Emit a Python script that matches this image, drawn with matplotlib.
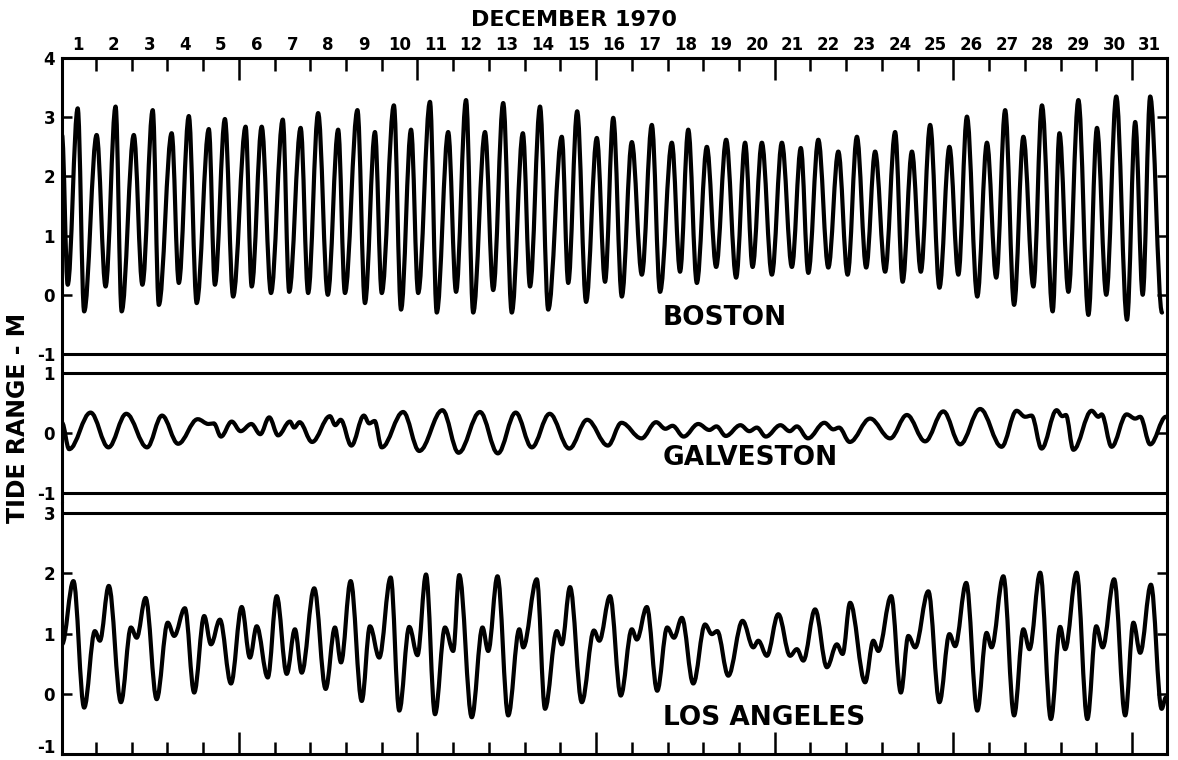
import matplotlib.pyplot as plt
from matplotlib.path import Path
from matplotlib.patches import PathPatch

plt.rcParams['font.family'] = ['DejaVu Sans']
plt.rcParams['font.weight'] = 'bold'
plt.rcParams['axes.unicode_minus'] = False

days = list(range(1, 32))

# Boston: times (days since Dec 1 0h) and levels (m) of successive highs and lows
bos_t = [0.05, 0.21, 0.49, 0.67, 1.02, 1.27, 1.55, 1.72, 2.06, 2.30, 2.59, 2.76,
         3.12, 3.32, 3.60, 3.82, 4.16, 4.33, 4.61, 4.84, 5.19, 5.36, 5.64, 5.90,
         6.23, 6.41, 6.73, 6.94, 7.22, 7.49, 7.78, 7.97, 8.32, 8.53, 8.81, 9.00,
         9.34, 9.54, 9.82, 10.02, 10.35, 10.54, 10.86, 11.08, 11.36, 11.56, 11.89, 12.12,
         12.40, 12.64, 12.95, 13.15, 13.43, 13.66, 14.04, 14.22, 14.47, 14.72, 15.02, 15.25,
         15.48, 15.72, 16.00, 16.28, 16.56, 16.79, 17.12, 17.35, 17.58, 17.82, 18.10, 18.36,
         18.64, 18.92, 19.17, 19.38, 19.64, 19.92, 20.20, 20.48, 20.73, 20.94, 21.22, 21.50,
         21.78, 22.04, 22.30, 22.56, 22.81, 23.09, 23.37, 23.58, 23.84, 24.09, 24.35, 24.61,
         24.89, 25.14, 25.38, 25.67, 25.94, 26.20, 26.45, 26.70, 26.96, 27.24, 27.48, 27.78,
         27.97, 28.22, 28.50, 28.78, 29.02, 29.28, 29.56, 29.86, 30.09, 30.30, 30.51, 30.84]
bos_v = [2.70, 0.17, 3.15, -0.28, 2.70, 0.14, 3.18, -0.28, 2.70, 0.17, 3.12, -0.17,
         2.73, 0.20, 3.02, -0.14, 2.80, 0.17, 2.97, -0.03, 2.84, 0.14, 2.84, 0.03,
         2.96, 0.05, 2.82, 0.03, 3.07, 0.00, 2.79, 0.03, 3.12, -0.14, 2.75, 0.03,
         3.20, -0.25, 2.79, 0.03, 3.26, -0.30, 2.75, 0.05, 3.29, -0.30, 2.75, 0.08,
         3.24, -0.30, 2.73, 0.14, 3.18, -0.25, 2.67, 0.20, 3.10, -0.12, 2.65, 0.22,
         2.99, -0.03, 2.58, 0.34, 2.87, 0.05, 2.57, 0.39, 2.79, 0.20, 2.50, 0.47,
         2.62, 0.29, 2.57, 0.47, 2.57, 0.34, 2.57, 0.47, 2.48, 0.37, 2.62, 0.46,
         2.42, 0.34, 2.67, 0.46, 2.42, 0.39, 2.75, 0.22, 2.42, 0.39, 2.87, 0.12,
         2.50, 0.34, 3.01, -0.03, 2.57, 0.29, 3.12, -0.17, 2.67, 0.14, 3.20, -0.28,
         2.73, 0.05, 3.29, -0.34, 2.82, 0.00, 3.35, -0.42, 2.92, 0.00, 3.35, -0.30]

# Galveston
gal_t = [0.05, 0.25, 0.85, 1.35, 1.85, 2.43, 2.85, 3.30, 3.85, 4.15,
         4.30, 4.50, 4.80, 5.05, 5.35, 5.60, 5.85, 6.10, 6.43, 6.55,
         6.70, 7.05, 7.55, 7.70, 7.85, 8.15, 8.50, 8.65, 8.80, 9.00,
         9.60, 10.05, 10.70, 11.15, 11.75, 12.25, 12.75, 13.20, 13.70, 14.25,
         14.75, 15.33, 15.71, 16.27, 16.68, 16.94, 17.14, 17.45, 17.86, 18.17,
         18.37, 18.63, 19.04, 19.29, 19.50, 19.75, 20.16, 20.42, 20.62, 20.93,
         21.39, 21.64, 21.80, 22.10, 22.67, 23.23, 23.70, 24.21, 24.72, 25.19,
         25.75, 26.35, 26.77, 27.01, 27.19, 27.47, 27.89, 28.05, 28.15, 28.36,
         28.87, 29.06, 29.15, 29.43, 29.85, 30.09, 30.23, 30.51, 30.95]
gal_v = [0.17, -0.27, 0.34, -0.24, 0.32, -0.24, 0.29, -0.18, 0.23, 0.15,
         0.16, -0.06, 0.19, 0.03, 0.15, -0.02, 0.26, -0.04, 0.19, 0.09,
         0.18, -0.15, 0.28, 0.13, 0.22, -0.21, 0.29, 0.16, 0.20, -0.24,
         0.35, -0.30, 0.38, -0.33, 0.35, -0.34, 0.34, -0.24, 0.32, -0.26,
         0.22, -0.21, 0.17, -0.09, 0.18, 0.07, 0.12, -0.06, 0.15, 0.05,
         0.11, -0.05, 0.13, 0.03, 0.09, -0.06, 0.13, 0.03, 0.11, -0.09,
         0.17, 0.06, 0.09, -0.15, 0.24, -0.09, 0.30, -0.14, 0.36, -0.19,
         0.40, -0.23, 0.37, 0.27, 0.29, -0.26, 0.38, 0.28, 0.30, -0.28,
         0.37, 0.27, 0.31, -0.23, 0.31, 0.24, 0.27, -0.19, 0.27]

# Los Angeles
la_t = [0.05, 0.37, 0.67, 0.97, 1.11, 1.36, 1.70, 1.98, 2.14, 2.39, 2.70, 3.01,
        3.19, 3.49, 3.75, 4.03, 4.22, 4.47, 4.78, 5.08, 5.31, 5.50, 5.81, 6.06,
        6.34, 6.57, 6.76, 7.11, 7.43, 7.69, 7.86, 8.13, 8.44, 8.67, 8.93, 9.25,
        9.49, 9.77, 10.00, 10.24, 10.49, 10.77, 11.00, 11.17, 11.52, 11.82, 11.98, 12.24,
        12.54, 12.85, 12.96, 13.34, 13.57, 13.90, 14.04, 14.27, 14.60, 14.94, 15.09, 15.39,
        15.69, 16.00, 16.14, 16.42, 16.71, 16.99, 17.18, 17.40, 17.72, 18.05, 18.24, 18.39,
        18.70, 19.10, 19.40, 19.54, 19.78, 20.10, 20.43, 20.62, 20.80, 21.13, 21.46, 21.74,
        21.90, 22.11, 22.53, 22.76, 22.90, 23.26, 23.53, 23.74, 23.93, 24.30, 24.61, 24.89,
        25.05, 25.36, 25.67, 25.93, 26.07, 26.40, 26.70, 26.96, 27.13, 27.43, 27.73, 27.99,
        28.13, 28.45, 28.75, 29.00, 29.18, 29.50, 29.81, 30.04, 30.23, 30.53, 30.83, 30.95]
la_v = [0.82, 1.87, -0.23, 1.04, 0.88, 1.79, -0.14, 1.10, 0.93, 1.59, -0.09, 1.18,
        0.96, 1.42, 0.02, 1.29, 0.82, 1.23, 0.17, 1.44, 0.60, 1.12, 0.27, 1.62,
        0.33, 1.07, 0.35, 1.75, 0.08, 1.10, 0.52, 1.87, -0.12, 1.12, 0.60, 1.93,
        -0.28, 1.11, 0.64, 1.98, -0.34, 1.10, 0.71, 1.97, -0.39, 1.10, 0.71, 1.95,
        -0.36, 1.07, 0.77, 1.90, -0.25, 1.04, 0.82, 1.77, -0.14, 1.05, 0.88, 1.62,
        -0.03, 1.07, 0.90, 1.44, 0.05, 1.10, 0.93, 1.26, 0.17, 1.15, 0.99, 1.04,
        0.30, 1.21, 0.77, 0.88, 0.63, 1.32, 0.63, 0.74, 0.55, 1.40, 0.44, 0.82,
        0.66, 1.51, 0.19, 0.88, 0.71, 1.62, 0.02, 0.96, 0.77, 1.70, -0.14, 0.99,
        0.79, 1.84, -0.28, 1.01, 0.77, 1.95, -0.36, 1.07, 0.74, 2.01, -0.42, 1.11,
        0.74, 2.01, -0.42, 1.12, 0.77, 1.90, -0.36, 1.18, 0.68, 1.81, -0.25, -0.06]


def tide_curve(ts, vs):
    # smooth curve through the turning points, flat at each one
    verts = [(ts[0], vs[0])]
    codes = [Path.MOVETO]
    for i in range(1, len(ts)):
        dt = ts[i] - ts[i - 1]
        verts += [(ts[i - 1] + 0.363 * dt, vs[i - 1]),
                  (ts[i] - 0.363 * dt, vs[i]),
                  (ts[i], vs[i])]
        codes += [Path.CURVE4] * 3
    return PathPatch(Path(verts, codes), fill=False, edgecolor='black',
                     lw=3.0, capstyle='round', joinstyle='round')


W, H = 1178, 760
fig = plt.figure(figsize=(W / 100, H / 100), dpi=100)
x_left, x_right = 62, 1167


def panel(top, bottom):
    return fig.add_axes([x_left / W, 1 - bottom / H, (x_right - x_left) / W, (bottom - top) / H])


ax_b = panel(58, 363.5)
ax_g = panel(363.5, 503)
ax_l = panel(503, 754)

frame_lw = 2.2
xlim = (0.05, 30.98)

for ax in (ax_b, ax_g, ax_l):
    ax.set_xlim(xlim)
    for s in ax.spines.values():
        s.set_linewidth(frame_lw)
    ax.tick_params(axis='y', direction='in', length=7, width=1.8, left=True, right=True,
                   labelsize=12, pad=5)
    ax.tick_params(axis='x', which='both', direction='in', width=1.8)

# Boston
ax_b.add_patch(tide_curve(bos_t, bos_v))
ax_b.set_ylim(-1.16, 4)
ax_b.set_yticks([-1, 0, 1, 2, 3, 4])
ax_b.spines['bottom'].set_visible(False)
ax_b.axhline(-1, color='black', lw=frame_lw)
ax_b.set_xticks([5, 10, 15, 20, 25, 30])
ax_b.set_xticks([d for d in days[:-1] if d % 5], minor=True)
ax_b.tick_params(axis='x', which='both', top=True, bottom=False, labeltop=False, labelbottom=False)
ax_b.tick_params(axis='x', which='major', length=16)
ax_b.tick_params(axis='x', which='minor', length=9)
sec = ax_b.secondary_xaxis('top')
sec.set_xticks([d - 0.5 for d in days], labels=[str(d) for d in days])
sec.tick_params(length=0, pad=3, labelsize=12)
sec.spines['top'].set_visible(False)
ax_b.text(16.87, -0.39, 'BOSTON', fontsize=19, fontweight='bold', ha='left', va='center')

# Galveston
ax_g.add_patch(tide_curve(gal_t, gal_v))
ax_g.set_ylim(-1.167, 1.158)
ax_g.set_yticks([-1, 0, 1])
ax_g.spines['top'].set_visible(False)
ax_g.spines['bottom'].set_visible(False)
ax_g.axhline(1, color='black', lw=frame_lw)
ax_g.axhline(-1, color='black', lw=frame_lw)
ax_g.set_xticks([])
ax_g.text(16.87, -0.42, 'GALVESTON', fontsize=19, fontweight='bold', ha='left', va='center')

# Los Angeles
ax_l.add_patch(tide_curve(la_t, la_v))
ax_l.set_ylim(-1, 3.166)
ax_l.set_yticks([-1, 0, 1, 2, 3], labels=['', '0', '1', '2', '3'])
ax_l.spines['top'].set_visible(False)
ax_l.axhline(3, color='black', lw=frame_lw)
ax_l.set_xticks([5, 10, 15, 20, 25, 30])
ax_l.set_xticks([d for d in days[:-1] if d % 5], minor=True)
ax_l.tick_params(axis='x', which='both', bottom=True, top=False, labelbottom=False)
ax_l.tick_params(axis='x', which='major', length=16)
ax_l.tick_params(axis='x', which='minor', length=9)
ax_l.text(16.87, -0.41, 'LOS ANGELES', fontsize=19, fontweight='bold', ha='left', va='center')
# bottom "-1" lifted a little so it stays inside the canvas
fig.text(55 / W, 1 - 748 / H, '-1', ha='right', va='center', fontsize=12, fontweight='bold')

fig.text(574 / W, 1 - 20 / H, 'DECEMBER 1970', ha='center', va='center',
         fontsize=16, fontweight='bold')
fig.text(18 / W, 1 - 418 / H, 'TIDE RANGE - M', ha='center', va='center',
         rotation=90, fontsize=17, fontweight='bold')

fig.savefig('out.png', dpi=100)
